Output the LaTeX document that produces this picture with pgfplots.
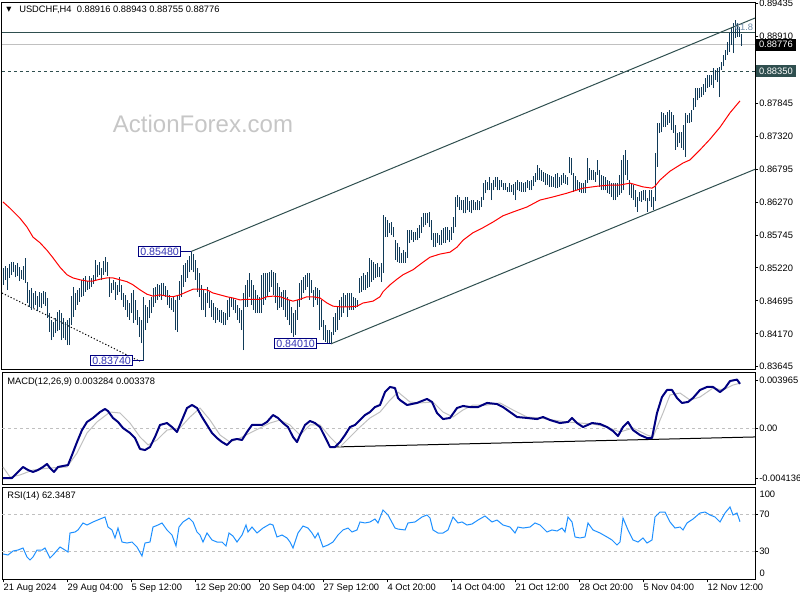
\documentclass[border=0pt]{standalone}
\usepackage{fontspec}
\setmainfont{Liberation Sans}
\newfontfamily\djv{DejaVu Sans}
\usepackage{pgfplots}
\usepackage{pgfplotstable}
\pgfplotsset{compat=1.18}
\definecolor{barc}{RGB}{16,58,88}
\definecolor{slate}{RGB}{47,79,79}
\definecolor{navyc}{RGB}{0,0,128}
\definecolor{silv}{RGB}{192,192,192}
\definecolor{dodger}{RGB}{30,144,255}
\definecolor{wm}{RGB}{198,198,198}
\definecolor{lbl}{RGB}{50,50,180}
\definecolor{fibc}{RGB}{110,140,170}
\newcommand\fs{\fontsize{7}{8}\selectfont}

\pgfplotstableread{
i h l
0 0.8522 0.8495
1 0.8525 0.8503
2 0.8522 0.8487
3 0.8528 0.8506
4 0.8531 0.8511
5 0.8531 0.8515
6 0.8527 0.8507
7 0.8530 0.8509
8 0.8523 0.8501
9 0.8519 0.8504
10 0.8525 0.8503
11 0.8538 0.8498
12 0.8500 0.8466
13 0.8487 0.8460
14 0.8490 0.8455
15 0.8482 0.8458
16 0.8485 0.8463
17 0.8477 0.8453
18 0.8484 0.8460
19 0.8482 0.8458
20 0.8485 0.8464
21 0.8484 0.8461
22 0.8474 0.8442
23 0.8450 0.8420
24 0.8439 0.8407
25 0.8436 0.8412
26 0.8442 0.8418
27 0.8452 0.8421
28 0.8455 0.8423
29 0.8450 0.8407
30 0.8442 0.8410
31 0.8436 0.8407
32 0.8439 0.8399
33 0.8442 0.8399
34 0.8477 0.8431
35 0.8492 0.8444
36 0.8482 0.8455
37 0.8487 0.8463
38 0.8490 0.8468
39 0.8503 0.8476
40 0.8506 0.8477
41 0.8509 0.8484
42 0.8501 0.8487
43 0.8509 0.8488
44 0.8506 0.8492
45 0.8511 0.8496
46 0.8535 0.8503
47 0.8527 0.8507
48 0.8531 0.8511
49 0.8522 0.8503
50 0.8533 0.8511
51 0.8539 0.8515
52 0.8531 0.8509
53 0.8507 0.8476
54 0.8498 0.8482
55 0.8503 0.8487
56 0.8500 0.8471
57 0.8495 0.8479
58 0.8507 0.8484
59 0.8495 0.8471
60 0.8482 0.8460
61 0.8479 0.8455
62 0.8471 0.8444
63 0.8466 0.8439
64 0.8482 0.8450
65 0.8487 0.8434
66 0.8471 0.8439
67 0.8455 0.8431
68 0.8444 0.8412
69 0.8439 0.8402
70 0.8476 0.8374
71 0.8463 0.8423
72 0.8460 0.8434
73 0.8471 0.8442
74 0.8476 0.8450
75 0.8490 0.8460
76 0.8492 0.8466
77 0.8496 0.8471
78 0.8495 0.8476
79 0.8498 0.8471
80 0.8498 0.8479
81 0.8493 0.8476
82 0.8487 0.8463
83 0.8479 0.8458
84 0.8474 0.8455
85 0.8477 0.8452
86 0.8471 0.8423
87 0.8479 0.8420
88 0.8501 0.8471
89 0.8511 0.8476
90 0.8527 0.8492
91 0.8530 0.8500
92 0.8535 0.8506
93 0.8541 0.8515
94 0.8548 0.8519
95 0.8544 0.8515
96 0.8535 0.8503
97 0.8522 0.8484
98 0.8514 0.8476
99 0.8495 0.8455
100 0.8487 0.8455
101 0.8482 0.8444
102 0.8492 0.8466
103 0.8484 0.8458
104 0.8471 0.8444
105 0.8466 0.8439
106 0.8460 0.8434
107 0.8458 0.8439
108 0.8455 0.8436
109 0.8455 0.8434
110 0.8452 0.8431
111 0.8450 0.8431
112 0.8471 0.8439
113 0.8476 0.8444
114 0.8476 0.8460
115 0.8474 0.8455
116 0.8471 0.8450
117 0.8463 0.8439
118 0.8458 0.8434
119 0.8455 0.8423
120 0.8482 0.8391
121 0.8495 0.8460
122 0.8503 0.8460
123 0.8514 0.8476
124 0.8503 0.8463
125 0.8495 0.8455
126 0.8487 0.8450
127 0.8479 0.8450
128 0.8476 0.8450
129 0.8511 0.8450
130 0.8514 0.8463
131 0.8514 0.8471
132 0.8514 0.8476
133 0.8515 0.8484
134 0.8519 0.8492
135 0.8515 0.8479
136 0.8514 0.8466
137 0.8498 0.8455
138 0.8492 0.8458
139 0.8484 0.8460
140 0.8487 0.8455
141 0.8487 0.8444
142 0.8476 0.8439
143 0.8471 0.8431
144 0.8460 0.8418
145 0.8450 0.8412
146 0.8455 0.8415
147 0.8471 0.8439
148 0.8498 0.8460
149 0.8503 0.8471
150 0.8507 0.8482
151 0.8511 0.8487
152 0.8514 0.8492
153 0.8514 0.8471
154 0.8503 0.8482
155 0.8487 0.8460
156 0.8492 0.8471
157 0.8490 0.8463
158 0.8487 0.8423
159 0.8471 0.8428
160 0.8439 0.8407
161 0.8431 0.8404
162 0.8423 0.8402
163 0.8423 0.8402
164 0.8420 0.8401
165 0.8444 0.8415
166 0.8450 0.8420
167 0.8460 0.8423
168 0.8471 0.8439
169 0.8476 0.8444
170 0.8482 0.8450
171 0.8479 0.8460
172 0.8482 0.8444
173 0.8482 0.8455
174 0.8482 0.8455
175 0.8476 0.8455
176 0.8474 0.8458
177 0.8471 0.8460
178 0.8506 0.8482
179 0.8509 0.8484
180 0.8514 0.8487
181 0.8511 0.8487
182 0.8515 0.8490
183 0.8538 0.8492
184 0.8535 0.8500
185 0.8531 0.8503
186 0.8528 0.8506
187 0.8530 0.8507
188 0.8523 0.8507
189 0.8530 0.8500
190 0.8606 0.8514
191 0.8603 0.8571
192 0.8598 0.8571
193 0.8593 0.8578
194 0.8595 0.8574
195 0.8587 0.8571
196 0.8566 0.8535
197 0.8562 0.8531
198 0.8555 0.8530
199 0.8546 0.8530
200 0.8550 0.8530
201 0.8547 0.8530
202 0.8582 0.8538
203 0.8582 0.8562
204 0.8582 0.8566
205 0.8579 0.8563
206 0.8579 0.8566
207 0.8586 0.8566
208 0.8590 0.8570
209 0.8603 0.8578
210 0.8609 0.8587
211 0.8609 0.8590
212 0.8609 0.8593
213 0.8611 0.8587
214 0.8598 0.8566
215 0.8578 0.8555
216 0.8578 0.8555
217 0.8578 0.8562
218 0.8574 0.8559
219 0.8582 0.8559
220 0.8586 0.8562
221 0.8587 0.8562
222 0.8587 0.8566
223 0.8582 0.8563
224 0.8587 0.8566
225 0.8603 0.8578
226 0.8635 0.8587
227 0.8638 0.8619
228 0.8635 0.8614
229 0.8630 0.8614
230 0.8630 0.8609
231 0.8635 0.8609
232 0.8635 0.8614
233 0.8628 0.8611
234 0.8630 0.8609
235 0.8630 0.8614
236 0.8627 0.8614
237 0.8630 0.8614
238 0.8628 0.8614
239 0.8635 0.8619
240 0.8657 0.8630
241 0.8662 0.8641
242 0.8659 0.8646
243 0.8667 0.8646
244 0.8657 0.8630
245 0.8662 0.8646
246 0.8667 0.8651
247 0.8667 0.8646
248 0.8662 0.8646
249 0.8662 0.8651
250 0.8657 0.8646
251 0.8657 0.8646
252 0.8651 0.8643
253 0.8657 0.8643
254 0.8654 0.8643
255 0.8656 0.8638
256 0.8659 0.8630
257 0.8662 0.8646
258 0.8659 0.8644
259 0.8659 0.8643
260 0.8657 0.8643
261 0.8659 0.8643
262 0.8662 0.8649
263 0.8660 0.8646
264 0.8662 0.8646
265 0.8668 0.8652
266 0.8673 0.8659
267 0.8686 0.8662
268 0.8681 0.8662
269 0.8678 0.8660
270 0.8675 0.8659
271 0.8673 0.8654
272 0.8672 0.8654
273 0.8670 0.8651
274 0.8668 0.8651
275 0.8667 0.8651
276 0.8672 0.8649
277 0.8673 0.8649
278 0.8667 0.8651
279 0.8670 0.8654
280 0.8673 0.8657
281 0.8670 0.8656
282 0.8667 0.8654
283 0.8699 0.8673
284 0.8697 0.8670
285 0.8673 0.8643
286 0.8668 0.8646
287 0.8662 0.8646
288 0.8659 0.8643
289 0.8657 0.8641
290 0.8657 0.8641
291 0.8662 0.8641
292 0.8697 0.8657
293 0.8681 0.8662
294 0.8678 0.8662
295 0.8678 0.8662
296 0.8675 0.8659
297 0.8694 0.8670
298 0.8678 0.8651
299 0.8670 0.8646
300 0.8668 0.8646
301 0.8667 0.8646
302 0.8662 0.8641
303 0.8660 0.8640
304 0.8657 0.8635
305 0.8657 0.8630
306 0.8657 0.8630
307 0.8657 0.8635
308 0.8670 0.8638
309 0.8694 0.8641
310 0.8702 0.8646
311 0.8710 0.8670
312 0.8694 0.8662
313 0.8662 0.8638
314 0.8657 0.8633
315 0.8654 0.8630
316 0.8646 0.8619
317 0.8635 0.8611
318 0.8643 0.8628
319 0.8644 0.8627
320 0.8646 0.8630
321 0.8646 0.8628
322 0.8633 0.8611
323 0.8646 0.8628
324 0.8646 0.8619
325 0.8635 0.8614
326 0.8705 0.8628
327 0.8753 0.8683
328 0.8753 0.8737
329 0.8770 0.8738
330 0.8769 0.8746
331 0.8765 0.8746
332 0.8770 0.8750
333 0.8774 0.8753
334 0.8770 0.8742
335 0.8765 0.8737
336 0.8750 0.8710
337 0.8737 0.8715
338 0.8738 0.8721
339 0.8738 0.8713
340 0.8750 0.8710
341 0.8769 0.8699
342 0.8765 0.8753
343 0.8769 0.8753
344 0.8774 0.8754
345 0.8793 0.8774
346 0.8809 0.8778
347 0.8809 0.8789
348 0.8809 0.8793
349 0.8810 0.8794
350 0.8815 0.8797
351 0.8825 0.8802
352 0.8829 0.8809
353 0.8829 0.8810
354 0.8829 0.8813
355 0.8840 0.8809
356 0.8837 0.8821
357 0.8840 0.8818
358 0.8842 0.8794
359 0.8850 0.8837
360 0.8861 0.8843
361 0.8869 0.8853
362 0.8882 0.8861
363 0.8896 0.8866
364 0.8906 0.8877
365 0.8912 0.8864
366 0.8917 0.8888
367 0.8912 0.8890
368 0.8906 0.8890
369 0.88943 0.88755
}\bars

\pgfplotstableread{
i v
0 0.8627
3.5 0.8617
8.5 0.8601
12 0.8587
15 0.8571
18.5 0.8562
22 0.8550
25 0.8538
28.5 0.8523
32 0.8511
35 0.8506
38.5 0.8503
42 0.8501
45 0.8501
48.5 0.8504
52 0.8506
55 0.8506
58.5 0.8503
62 0.8500
65 0.8495
68.5 0.8487
72 0.8480
75 0.8477
78.5 0.8479
82 0.8477
85 0.8476
88.5 0.8479
92 0.8484
95 0.8488
98.5 0.8488
102 0.8487
105 0.8482
108.5 0.8479
112 0.8476
115 0.8474
118.5 0.8471
122 0.8472
125 0.8472
128.5 0.8472
132 0.8476
135 0.8477
138.5 0.8476
142 0.8472
145 0.8469
148.5 0.8472
152 0.8476
155 0.8476
158.5 0.8474
162 0.8466
165 0.8461
168.5 0.8460
173.5 0.8460
177 0.8461
180 0.8466
185 0.8469
188.5 0.8476
190 0.8484
193.5 0.8495
197 0.8504
200 0.8511
205 0.8519
210 0.8531
213.5 0.8539
218.5 0.8544
223.5 0.8547
227 0.8555
230 0.8566
235 0.8578
240 0.8586
245 0.8595
250 0.8605
255 0.8611
262 0.8619
268.5 0.8630
275 0.8635
282 0.8641
290 0.8649
297 0.8652
303.5 0.8654
308.5 0.8654
313.5 0.8657
320 0.8651
324.5 0.8649
326 0.8652
328.5 0.8662
333.5 0.8676
340 0.8689
343.5 0.8694
348.5 0.8710
353.5 0.8727
358.5 0.8746
363.5 0.8769
368.5 0.8788
}\ma

\pgfplotstableread{
i v
0 -0.00413
4.5 -0.00413
7 -0.00372
10 -0.00322
12.5 -0.00347
15 -0.00363
17.5 -0.00347
20 -0.00322
22 -0.00297
23.5 -0.00330
25.5 -0.00363
27.5 -0.00322
30 -0.00314
32.5 -0.00306
34.5 -0.00223
37 -0.00116
39.5 -0.00017
42 0.00050
45 0.00083
48.5 0.00132
51 0.00157
52.5 0.00140
55 0.00083
57.5 0.00050
60 0
63.5 -0.00041
66 -0.00083
68.5 -0.00173
71 -0.00182
73.5 -0.00157
76 -0.00074
78.5 0.00025
82 0.00041
84.5 0.00008
87 -0.00033
89.5 0.00066
92 0.00165
94.5 0.00190
97 0.00165
99.5 0.00091
102 0.00025
104.5 -0.00041
107 -0.00083
109.5 -0.00116
112 -0.00140
114.5 -0.00099
117 -0.00091
119.5 -0.00099
122 -0.00033
124.5 0.00025
127 0.00025
129.5 0.00025
132 0.00050
135 0.00107
137.5 0.00083
140 0.00041
142.5 0.00008
145 -0.00074
147 -0.00116
148.5 -0.00058
151 0.00025
153.5 0.00058
156 0.00041
158.5 0.00008
161 -0.00074
163.5 -0.00157
166 -0.00157
168.5 -0.00116
171 -0.00058
173.5 0.00008
176 0.00025
178.5 0.00066
181 0.00107
183.5 0.00132
186 0.00173
188.5 0.00190
191 0.00297
193.5 0.00339
196 0.00330
197.5 0.00248
198.5 0.00231
202 0.00190
207 0.00207
212 0.00240
214.5 0.00215
217 0.00124
220 0.00074
223.5 0.00083
227 0.00165
230 0.00182
233.5 0.00173
237.5 0.00173
242 0.00207
247 0.00198
250 0.00173
253.5 0.00132
257 0.00091
262 0.00083
267 0.00074
270 0.00091
273.5 0.00066
278.5 0.00041
282.5 0.00050
284.5 0.00083
287 0.00041
290 0.00008
294.5 0.00041
298.5 0.00033
302 0.00008
305 -0.00025
307.5 -0.00066
310 0.00008
312.5 0.00050
315 -0.00017
318.5 -0.00058
322 -0.00083
324.5 -0.00083
327 0.00124
329.5 0.00256
332 0.00314
334.5 0.00314
337 0.00248
339.5 0.00207
342.5 0.00215
345 0.00248
348.5 0.00314
352 0.00339
355 0.00339
358.5 0.00297
361 0.00330
363.5 0.00388
367 0.00400
368.5 0.00365
}\macd

\pgfplotstableread{
i v
0 -0.00322
3.5 -0.00405
8.5 -0.00388
15 -0.00347
23.5 -0.00330
32 -0.00322
37 -0.00207
42 -0.00041
47 0.00050
53.5 0.00132
58.5 0.00124
63.5 0.00041
68.5 -0.00074
72.5 -0.00140
77 -0.00099
82 -0.00017
88.5 0
93.5 0.00091
98.5 0.00165
103.5 0.00066
108.5 -0.00058
113.5 -0.00116
118.5 -0.00083
123.5 -0.00041
128.5 0
133.5 0.00041
138.5 0.00066
143.5 0.00025
148.5 -0.00058
153.5 0.00025
158.5 0.00025
163.5 -0.00074
168.5 -0.00157
173.5 -0.00074
178.5 0.00008
183.5 0.00083
188.5 0.00132
193.5 0.00231
197.5 0.00297
203.5 0.00215
208.5 0.00207
215 0.00215
220 0.00132
225 0.00091
230 0.00149
235 0.00190
242 0.00190
248.5 0.00207
255 0.00149
262 0.00091
268.5 0.00083
275 0.00066
282 0.00050
288.5 0.00041
295 0.00033
302 0.00008
308.5 -0.00033
315 0
322 -0.00058
325 -0.00074
330 0.00124
333.5 0.00273
338.5 0.00289
343.5 0.00231
348.5 0.00256
355 0.00330
360 0.00314
365 0.00355
368.5 0.00370
}\sig

\pgfplotstableread{
i v
0 27.2
2.5 26.1
5 30.4
7.5 31.5
10 33.7
12 23.9
13.5 20.7
15 23.9
17 31.5
19.5 31.5
21 33.7
23.5 22.8
25 26.1
28.5 34.8
31 31.5
32.5 29.3
33.5 50.0
36 51.1
37.5 53.3
40 60.9
42 58.7
45 62.0
48.5 65.2
51 67.4
52.5 56.5
54.5 53.3
56 44.6
57.5 55.4
59.5 40.2
62 39.1
64.5 40.2
67 34.8
69.5 25.0
71 39.1
73.5 40.2
75 56.5
77.5 58.7
79.5 60.9
82 53.3
84.5 47.8
86.5 35.9
88 56.5
90 62.0
93 66.3
95 62.0
97 51.1
98.5 47.8
100 40.2
102 50.0
104.5 42.4
107 40.2
109.5 40.2
111.5 35.9
113 50.0
115 46.7
117 40.2
119.5 47.8
121.5 58.7
122.5 51.1
124.5 56.5
127 50.0
130 55.4
133.5 59.8
135 58.7
137 45.7
139.5 47.8
142 44.6
143.5 40.2
145 33.7
147.5 50.0
150 57.6
152.5 55.4
154.5 50.0
156 44.6
157.5 50.0
160 34.8
162.5 37.0
165 40.2
167.5 47.8
170 53.3
172.5 55.4
174.5 51.1
177 53.3
178.5 62.0
181 60.9
183.5 62.0
186 65.2
187.5 60.9
190 75.0
192.5 69.6
196 55.4
197.5 54.3
201 53.3
202.5 60.9
206 62.0
209.5 67.4
212 69.6
213.5 66.3
215 53.3
217.5 50.0
220 50.0
222.5 53.3
225 67.4
227.5 60.9
229.5 62.0
232 58.7
234.5 59.8
237.5 64.1
241 68.5
244.5 62.0
247 64.1
250 58.7
253.5 56.5
256 50.0
257.5 56.5
260 55.4
263.5 56.5
266 60.9
268.5 58.7
272 51.1
274.5 53.3
277 52.2
279.5 55.4
281 51.1
282.5 67.4
284.5 62.0
286 45.7
288.5 44.6
291 45.7
292.5 60.9
295 53.3
298.5 50.0
302 45.7
304.5 42.4
307 37.0
308.5 40.2
310 66.3
312.5 53.3
315 42.4
317.5 40.2
320 44.6
322 39.1
324.5 42.4
326 67.4
328.5 72.8
331 72.8
333.5 62.0
336 55.4
338.5 56.5
340 53.3
342 60.9
345 65.2
348.5 71.7
351 72.8
353.5 69.6
356 67.4
358.5 62.0
361 71.7
363.5 78.3
365 69.6
367 71.7
368.5 62.3
}\rsi

\begin{document}
\begin{tikzpicture}
\path[use as bounding box] (0pt,0pt) rectangle (600pt,-450pt);
\pgfplotsset{panel/.style={
  scale only axis, width=564.75pt, xmin=-0.5, xmax=376,
  axis line style={line width=0.75pt, black},
  ytick pos=right, yticklabel pos=right, tick align=outside,
  major tick length=2.5pt, tick style={black, line width=0.6pt},
  yticklabel style={font=\fs, anchor=west, inner sep=0pt, xshift=0.5pt},
  scaled y ticks=false, scaled x ticks=false,
  clip=false, anchor=north west}}

% ---------- main price panel ----------
\begin{axis}[panel, at={(1.5pt,-1.5pt)}, height=275.25pt,
  ymin=0.83609, ymax=0.89455, xtick=\empty,
  ytick={0.83645,0.84170,0.84695,0.85220,0.85745,0.86270,0.86795,0.87320,0.87845,0.88910,0.89435},
  yticklabels={0.83645,0.84170,0.84695,0.85220,0.85745,0.86270,0.86795,0.87320,0.87845,0.88910,0.89435}]
\node[text=wm, font=\fontsize{18}{20}\selectfont] at (axis cs:100,0.87512) {ActionForex.com};
\addplot[slate, line width=0.75pt] coordinates {(-0.5,0.88977) (376,0.88977)};
\addplot[silv, line width=0.75pt] coordinates {(-0.5,0.88776) (376,0.88776)};
\addplot[slate, line width=0.75pt, dash pattern=on 2.25pt off 2.25pt] coordinates {(-0.5,0.88350) (376,0.88350)};
\addplot[black, line width=0.75pt, dash pattern=on 0.9pt off 1.5pt] coordinates {(-0.5,0.8482) (68.5,0.8373)};
\addplot[draw=none, mark=none, error bars/.cd, y dir=plus, y explicit, error mark=none,
  error bar style={draw=barc, line width=0.68pt}]
  table[x=i, y=l, y error expr=\thisrow{h}-\thisrow{l}] {\bars};
\addplot[red, line width=0.75pt] table[x=i, y=v] {\ma};
\addplot[slate, line width=0.75pt] coordinates {(94,0.8548) (376,0.8920)};
\addplot[slate, line width=0.75pt] coordinates {(164,0.8401) (376,0.8679)};
\node[text=fibc, font=\fs] at (axis cs:370.5,0.8906) {61.8};
% price labels
\addplot[navyc, line width=0.75pt] coordinates {(89,0.8548) (94,0.8548)};
\node[draw=navyc, fill=white, text=lbl, line width=0.75pt, inner xsep=1.2pt, inner ysep=1pt, font=\fontsize{8}{9}\selectfont, anchor=east] at (axis cs:89,0.8548) {0.85480};
\addplot[navyc, line width=0.75pt] coordinates {(65,0.8374) (70,0.8374)};
\node[draw=navyc, fill=white, text=lbl, line width=0.75pt, inner xsep=1.2pt, inner ysep=1pt, font=\fontsize{8}{9}\selectfont, anchor=east] at (axis cs:65,0.8374) {0.83740};
\addplot[navyc, line width=0.75pt] coordinates {(157,0.8401) (164,0.8401)};
\node[draw=navyc, fill=white, text=lbl, line width=0.75pt, inner xsep=1.2pt, inner ysep=1pt, font=\fontsize{8}{9}\selectfont, anchor=east] at (axis cs:157,0.8401) {0.84010};
% right boxes
\node[fill=black, text=white, anchor=west, inner xsep=2.2pt, inner ysep=0pt, minimum height=9pt, font=\fs, xshift=0.6pt] at (axis cs:376,0.88776) {0.88776};
\node[fill=slate, text=white, anchor=west, inner xsep=2.2pt, inner ysep=0pt, minimum height=9pt, font=\fs, xshift=0.6pt] at (axis cs:376,0.88350) {0.88350};
\end{axis}

% ---------- MACD panel ----------
\begin{axis}[panel, at={(1.5pt,-279pt)}, height=84.75pt,
  ymin=-0.004708, ymax=0.004626, xtick=\empty,
  ytick={-0.004136,0,0.003965}, yticklabels={-0.004136,0.00,0.003965}]
\addplot[silv, line width=0.75pt, dash pattern=on 2.25pt off 2.25pt] coordinates {(-0.5,0) (376,0)};
\addplot[black, line width=0.75pt] coordinates {(165,-0.00157) (376,-0.00074)};
\addplot[silv, line width=0.75pt] table[x=i, y=v] {\sig};
\addplot[navyc, line width=1.5pt, line join=round] table[x=i, y=v] {\macd};
\end{axis}

% ---------- RSI panel ----------
\begin{axis}[panel, at={(1.5pt,-365.25pt)}, height=69pt,
  ymin=0, ymax=100, ytick={30,70}, yticklabels={30,70},
  xtick pos=left,
  xtick={0,32,64,96,128,160,192,224,256,288,320,352},
  xticklabels={21 Aug 2024,29 Aug 04:00,5 Sep 12:00,12 Sep 20:00,20 Sep 04:00,27 Sep 12:00,4 Oct 20:00,14 Oct 04:00,21 Oct 12:00,28 Oct 20:00,5 Nov 04:00,12 Nov 12:00},
  xticklabel style={font=\fs, anchor=north west, inner sep=0pt, xshift=0.3pt, yshift=-1pt}]
\addplot[silv, line width=0.75pt, dash pattern=on 2.25pt off 2.25pt] coordinates {(-0.5,30) (376,30)};
\addplot[silv, line width=0.75pt, dash pattern=on 2.25pt off 2.25pt] coordinates {(-0.5,70) (376,70)};
\addplot[dodger, line width=0.75pt] table[x=i, y=v] {\rsi};
\end{axis}

% ---------- texts ----------
\node[anchor=west, inner sep=0pt, font=\djv\fontsize{5}{6}\selectfont] at (4.6pt,-7.5pt) {▼};
\node[anchor=west, inner sep=0pt, font=\fs] at (14.25pt,-7.5pt) {USDCHF,H4\ \ 0.88916 0.88943 0.88755 0.88776};
\node[anchor=west, inner sep=0pt, font=\fs] at (5.25pt,-286.3pt) {MACD(12,26,9) 0.003284 0.003378};
\node[anchor=west, inner sep=0pt, font=\fs] at (5.25pt,-372pt) {RSI(14) 62.3487};
\node[anchor=west, inner sep=0pt, font=\fs] at (569.5pt,-370.5pt) {100};
\node[anchor=west, inner sep=0pt, font=\fs] at (569.5pt,-429.75pt) {0};
\end{tikzpicture}
\end{document}
